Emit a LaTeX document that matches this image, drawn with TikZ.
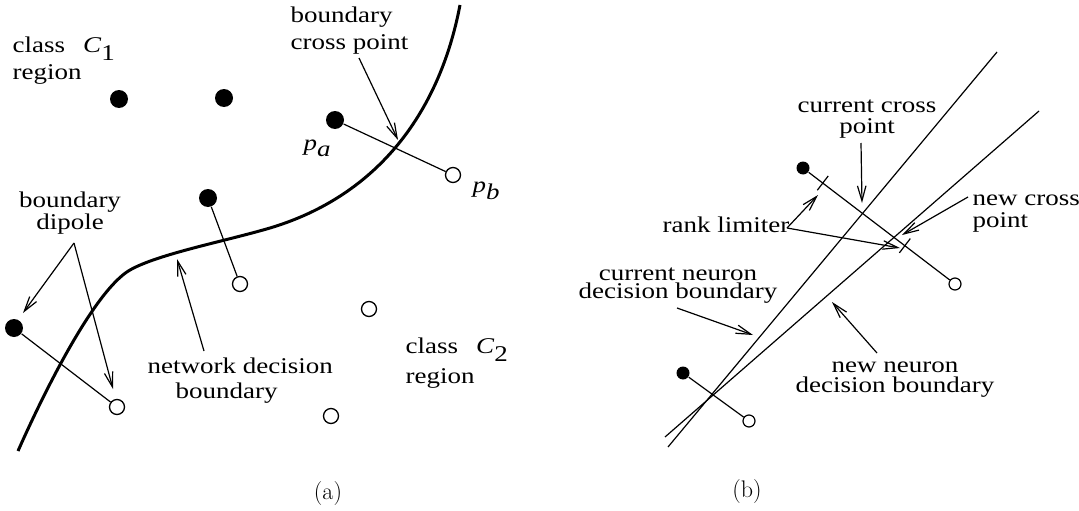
\documentclass[tikz,border=0pt]{standalone}
\usepackage{fontspec}
\newfontfamily\lab{Liberation Serif}[FakeStretch=1.2]
\usetikzlibrary{arrows.meta,calc}
\begin{document}
\begin{tikzpicture}[x=1pt,y=-1pt,line width=1.2pt,
  lbl/.style={font=\lab\fontsize{22.5pt}{#1}\selectfont, inner sep=0pt},
  lbl/.default=25pt,
  captxt/.style={font=\fontsize{24pt}{26pt}\selectfont, inner sep=0pt},
  dotA/.style={circle,fill=black,inner sep=0pt,minimum size=18pt},
  openA/.style={circle,draw=black,fill=white,line width=1.3pt,inner sep=0pt,minimum size=15pt},
  dotB/.style={circle,fill=black,inner sep=0pt,minimum size=13pt},
  openB/.style={circle,draw=black,fill=white,line width=1.2pt,inner sep=0pt,minimum size=12pt},
  arr/.style={-{Straight Barb[length=15pt,width=8.5pt]},line width=1.2pt},
  bnd/.style={line width=3pt},
  seg/.style={line width=1.2pt}]
\useasboundingbox (0,0) rectangle (1079,511);

% ---------------- panel (a) ----------------
\draw[bnd] (460,5) .. controls (440,110) and (380,195) .. (270,228)
  .. controls (226,241) and (158,254) .. (130,270)
  .. controls (95,290) and (45,390) .. (18,451);

\node[dotA] (d1) at (119,99) {};
\node[dotA] (d2) at (224,98) {};
\node[dotA] (pa) at (335,120) {};
\node[dotA] (d4) at (208,198) {};
\node[dotA] (d5) at (14,328) {};
\node[openA] (pb) at (453,175) {};
\node[openA] (o4) at (240,284) {};
\node[openA] (o6) at (369,309) {};
\node[openA] (o5) at (117,407) {};
\node[openA] (o7) at (331,416) {};

\draw[seg] (pa) -- (pb);
\draw[seg] (d4) -- (o4);
\draw[seg] (d5) -- (o5);

\node[lbl=27pt, align=left, anchor=base west] (c1) at (12,80) {class\hspace{18pt}\textit{C}\raisebox{-8pt}{1}\\region};
\node[lbl=27pt, align=left, anchor=base west] (bcp) at (290,50) {boundary\\cross point};
\node[lbl=22pt, align=center, anchor=base] (bd) at (70,229) {boundary\\dipole};
\node[lbl=25pt, align=left, anchor=base west] (ndb) at (147,398) {network decision\\\hspace*{28pt}boundary};
\node[lbl=30pt, align=left, anchor=base west] (c2) at (405,383) {class\hspace{18pt}\textit{C}\raisebox{-8pt}{2}\\region};
\node[lbl, anchor=base west] (pal) at (303,150) {\textit{p}\raisebox{-6pt}{\textit{a}}};
\node[lbl, anchor=base west] (pbl) at (472,192) {\textit{p}\raisebox{-7pt}{\textit{b}}};

\coordinate (a1s) at (359,58);  \coordinate (a1t) at (398,140);
\coordinate (a2s) at (74,243);  \coordinate (a2t) at (23,313);
\coordinate (a3t) at (113,389);
\coordinate (a4s) at (204,351); \coordinate (a4t) at (177,259);
\draw[arr] (a1s) -- (a1t);
\draw[arr] (a2s) -- (a2t);
\draw[arr] (a2s) -- (a3t);
\draw[arr] (a4s) -- (a4t);

\node[captxt] (capa) at (328,494) {(a)};

% ---------------- panel (b) ----------------
\coordinate (l1a) at (668,447); \coordinate (l1b) at (997,52);
\coordinate (l2a) at (665,437); \coordinate (l2b) at (1039,111);
\draw[seg] (l1a) -- (l1b);
\draw[seg] (l2a) -- (l2b);

\node[dotB] (b1) at (803,168) {};
\node[openB] (b1c) at (955,284) {};
\node[dotB] (b2) at (683,373) {};
\node[openB] (b2c) at (749,421) {};
\draw[seg] (b1) -- (b1c);
\draw[seg] (b2) -- (b2c);

\coordinate (k1) at ($(b1)!0.13!(b1c)$);
\coordinate (k2) at ($(b1)!0.67!(b1c)$);
\draw[seg] ($(k1)!9pt!90:(b1c)$) -- ($(k1)!9pt!-90:(b1c)$);
\draw[seg] ($(k2)!9pt!90:(b1c)$) -- ($(k2)!9pt!-90:(b1c)$);

\node[lbl=21pt, align=center, anchor=base] (ccp) at (867,133) {current cross\\point};
\node[lbl, anchor=base west] (rl) at (662,232) {rank limiter};
\node[lbl=22pt, align=left, anchor=base west] (ncp) at (972,227) {new cross\\point};
\node[lbl=18pt, align=center, anchor=base] (cnb) at (678,298) {current neuron\\decision boundary};
\node[lbl=20pt, align=center, anchor=base] (nnb) at (895,392) {new neuron\\decision boundary};

\coordinate (b1s) at (861,143); \coordinate (b1t) at (862,203);
\coordinate (rls) at (787,228); \coordinate (r1t) at (818,195); \coordinate (r2t) at (900,248);
\coordinate (ncs) at (968,197); \coordinate (nct) at (902,235);
\coordinate (cns) at (677,308); \coordinate (cnt) at (753,335);
\coordinate (nns) at (877,353); \coordinate (nnt) at (832,302);
\draw[arr] (b1s) -- (b1t);
\draw[arr] (rls) -- (r1t);
\draw[arr] (rls) -- (r2t);
\draw[arr] (ncs) -- (nct);
\draw[arr] (cns) -- (cnt);
\draw[arr] (nns) -- (nnt);

\node[captxt] (capb) at (747,492) {(b)};
\end{tikzpicture}
\end{document}
